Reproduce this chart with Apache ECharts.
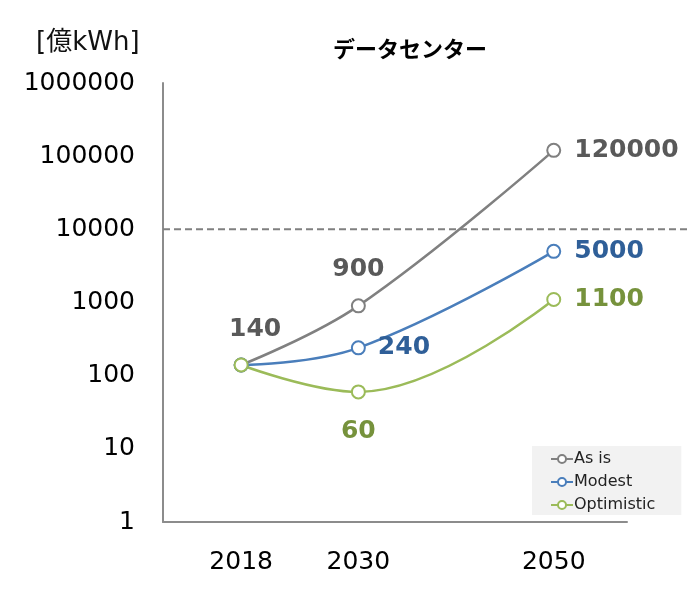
<!DOCTYPE html>
<html><head><meta charset="utf-8">
<script src="https://cdn.jsdelivr.net/npm/echarts@6/dist/echarts.min.js"></script>
<style>html,body{margin:0;padding:0;background:#fff}#c{width:700px;height:600px}</style>
</head><body><div id="c"></div>
<script>
const years = [2018, 2030, 2050];
const asIs = [140, 900, 120000];
const modest = [140, 240, 5000];
const optimistic = [140, 60, 1100];
const threshold = 10000;
const seriesNames = ['As is', 'Modest', 'Optimistic'];

const FONT = '"DejaVu Sans", "Noto Sans CJK JP", sans-serif';
const chart = echarts.init(document.getElementById('c'));

function pts(vals){ return years.map((y,i)=>[y, vals[i]]); }

function mkSeries(name, vals, color, lblColor, labelCfg){
  return {
    name, type:'line', xAxisIndex:0, yAxisIndex:0,
    data: pts(vals).map((d,i)=>({value:d, label:labelCfg[i]})),
    smooth:0.4, symbol:'emptyCircle', symbolSize:13,
    lineStyle:{color, width:2.5}, itemStyle:{color, borderWidth:2.5},
    label:{show:true, color:lblColor, fontFamily:FONT, fontWeight:'bold', fontSize:25,
      formatter:(p)=>String(p.value[1])},
    z:3
  };
}

chart.setOption({
  animation:false,
  title:{text:'データセンター', left:405, textAlign:'center', top:33,
    textStyle:{fontFamily:'"Noto Sans CJK JP", sans-serif', fontWeight:'bold', fontSize:22, color:'#000'}},
  graphic:[{type:'text', left:36, top:30, style:{text:'[億kWh]', font:'26px "DejaVu Sans", "Noto Sans CJK JP", sans-serif', fill:'#111'}}],
  legend:{orient:'vertical', left:532, top:446, padding:[5,26,2,18], backgroundColor:'#f2f2f2',
    itemWidth:22, itemHeight:10, itemGap:7,
    textStyle:{fontFamily:FONT, fontSize:16, color:'#222', padding:[0,0,0,-4]},
    data:seriesNames},
  grid:[{left:163, top:83, right:73, bottom:78},{left:163, top:83, right:10, bottom:78}],
  xAxis:[{type:'value', gridIndex:0, min:2010, max:2057.5,
      axisLine:{lineStyle:{color:'#8c8c8c', width:2}}, axisTick:{show:false}, splitLine:{show:false},
      axisLabel:{customValues:years, fontFamily:FONT, fontSize:25, color:'#000', margin:28, formatter:(v)=>String(v)}},
    {type:'value', gridIndex:1, min:0, max:1, show:false}],
  yAxis:[{type:'log', gridIndex:0, logBase:10, min:1, max:1000000,
      axisLine:{show:true, lineStyle:{color:'#8c8c8c', width:2}}, axisTick:{show:false}, splitLine:{show:false},
      axisLabel:{fontFamily:FONT, fontSize:25, color:'#000', margin:28, formatter:(v)=>String(Math.round(v))}},
    {type:'log', gridIndex:1, logBase:10, min:1, max:1000000, show:false}],
  series:[
    {type:'line', xAxisIndex:1, yAxisIndex:1, data:[[0,threshold],[1,threshold]], symbol:'none',
      lineStyle:{color:'#808080', width:2, type:[7,4]}, silent:true, z:1},
    mkSeries('As is', asIs, '#808080', '#595959', [
      {position:'inside', offset:[14,-35]},
      {position:'inside', offset:[0,-36]},
      {position:'right', distance:13}]),
    mkSeries('Modest', modest, '#4a7ebb', '#2f5f98', [
      {show:false},
      {position:'right', distance:12},
      {position:'right', distance:13}]),
    mkSeries('Optimistic', optimistic, '#9bbb59', '#76923c', [
      {show:false},
      {position:'inside', offset:[0,40]},
      {position:'right', distance:13}])
  ]
});
</script></body></html>
